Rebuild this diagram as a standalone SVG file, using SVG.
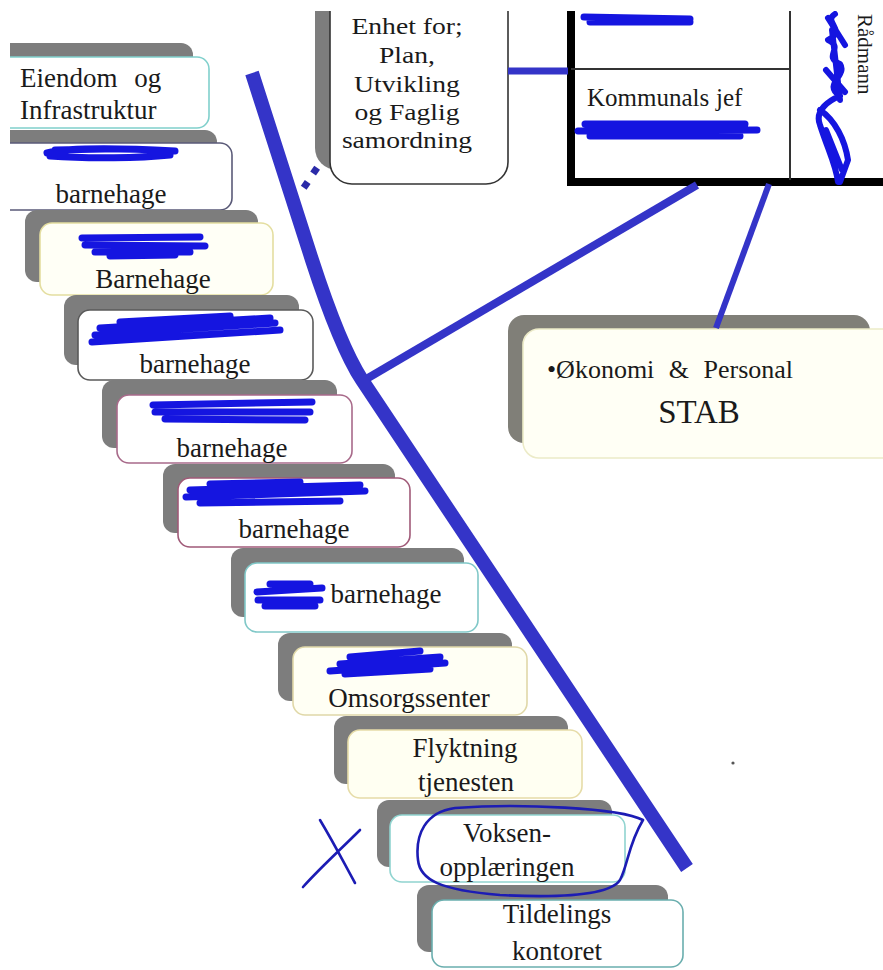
<svg xmlns="http://www.w3.org/2000/svg" width="883" height="970" viewBox="0 0 883 970">
<defs>
<clipPath id="clip"><rect x="10" y="11" width="873" height="959"/></clipPath>
<style>
.sh{fill:#7d7d7d}
.bx{fill:#ffffff;stroke-width:1.6}
.t{font-family:"Liberation Serif","Times New Roman",serif;font-size:27px;fill:#1a1a1a;text-anchor:middle}
.con{fill:none;stroke:#3434c8;stroke-linecap:butt}
.scr{fill:none;stroke:#1515e0;stroke-width:7;stroke-linecap:round;stroke-linejoin:round}
.ink{fill:none;stroke:#1c1cb4;stroke-width:2.6;stroke-linecap:round;stroke-linejoin:round}
</style>
</defs>
<rect x="0" y="0" width="883" height="970" fill="#ffffff"/>
<g clip-path="url(#clip)">

<g id="enhet">
<rect class="sh" x="315" y="-30" width="178" height="200" rx="22"/>
<rect class="bx" x="330" y="-20" width="178" height="204" rx="22" stroke="#333"/>
<g transform="translate(407,0) scale(1.2,1)">
<text class="t" style="font-size:23px" x="0" y="34">Enhet for;</text>
<text class="t" style="font-size:23px" x="0" y="63">Plan,</text>
<text class="t" style="font-size:23px" x="0" y="92">Utvikling</text>
<text class="t" style="font-size:23px" x="0" y="120">og Faglig</text>
<text class="t" style="font-size:23px" x="0" y="148">samordning</text>
</g>
</g>

<g id="kommunalsjef">
<rect x="571" y="-10" width="330" height="192" fill="#ffffff"/>
<line x1="571" y1="0" x2="571" y2="186" stroke="#000" stroke-width="8"/>
<line x1="567" y1="182" x2="883" y2="182" stroke="#000" stroke-width="8"/>
<line x1="571" y1="69" x2="790" y2="69" stroke="#333" stroke-width="2"/>
<line x1="790" y1="0" x2="790" y2="180" stroke="#333" stroke-width="2"/>
<text class="t" style="font-size:25px;text-anchor:start"><tspan x="587" y="106">Kommunals</tspan><tspan x="716" y="106">jef</tspan></text>
<text class="t" style="font-size:21px;text-anchor:start" transform="translate(858,14) rotate(90)">Rådmann</text>
</g>

<g id="eiendom">
<rect class="sh" x="-40" y="43" width="233" height="71" rx="12"/>
<rect class="bx" x="-24" y="57" width="233" height="71" rx="12" stroke="#80d0cc"/>
<text class="t" style="text-anchor:start;word-spacing:10px" x="20" y="87">Eiendom og</text>
<text class="t" style="text-anchor:start" x="20" y="119">Infrastruktur</text>
</g>

<g id="bhg1">
<rect class="sh" x="-16" y="130" width="233" height="67" rx="12"/>
<rect class="bx" x="-1" y="143" width="233" height="67" rx="12" stroke="#5a5a78"/>
<text class="t" x="111" y="203">barnehage</text>
</g>

<g id="bhg2">
<rect class="sh" x="25" y="210" width="233" height="72" rx="12"/>
<rect class="bx" x="40" y="223" width="233" height="72" rx="12" stroke="#e4dea0" style="fill:#fffff6"/>
<text class="t" x="153" y="288">Barnehage</text>
</g>

<g id="bhg3">
<rect class="sh" x="64" y="295" width="235" height="70" rx="12"/>
<rect class="bx" x="78" y="310" width="235" height="70" rx="12" stroke="#5a5a5a"/>
<text class="t" x="195" y="373">barnehage</text>
</g>

<g id="bhg4">
<rect class="sh" x="102" y="380" width="235" height="68" rx="12"/>
<rect class="bx" x="117" y="395" width="235" height="68" rx="12" stroke="#a86a8a"/>
<text class="t" x="232" y="457">barnehage</text>
</g>

<g id="bhg5">
<rect class="sh" x="163" y="464" width="232" height="69" rx="12"/>
<rect class="bx" x="178" y="478" width="232" height="69" rx="12" stroke="#a05a78"/>
<text class="t" x="294" y="538">barnehage</text>
</g>

<g id="bhg6">
<rect class="sh" x="231" y="548" width="233" height="69" rx="12"/>
<rect class="bx" x="245" y="563" width="233" height="69" rx="12" stroke="#80c8c8"/>
<text class="t" x="386" y="603">barnehage</text>
</g>

<g id="omsorg">
<rect class="sh" x="278" y="633" width="234" height="68" rx="12"/>
<rect class="bx" x="293" y="647" width="234" height="68" rx="12" stroke="#e0d8a8" style="fill:#fffff4"/>
<text class="t" x="409" y="707">Omsorgssenter</text>
</g>

<g id="flyktning">
<rect class="sh" x="334" y="716" width="234" height="68" rx="12"/>
<rect class="bx" x="348" y="730" width="234" height="68" rx="12" stroke="#e6dca8" style="fill:#fffff2"/>
<text class="t" x="465" y="757">Flyktning</text>
<text class="t" x="466" y="791">tjenesten</text>
</g>

<g id="voksen">
<rect class="sh" x="377" y="800" width="235" height="67" rx="12"/>
<rect class="bx" x="390" y="815" width="235" height="67" rx="12" stroke="#90d4d0"/>
<text class="t" x="507" y="842">Voksen-</text>
<text class="t" x="507" y="876">opplæringen</text>
</g>

<g id="tildeling">
<rect class="sh" x="417" y="885" width="251" height="67" rx="12"/>
<rect class="bx" x="432" y="900" width="251" height="67" rx="12" stroke="#6aaeae"/>
<text class="t" x="557" y="923">Tildelings</text>
<text class="t" x="557" y="960">kontoret</text>
</g>

<g id="stab">
<rect x="508" y="315" width="362" height="128" rx="16" fill="#807f78"/>
<rect class="bx" x="523" y="329" width="380" height="129" rx="16" stroke="#ecebc8" style="fill:#fffff5"/>
<text class="t" style="font-size:26px;text-anchor:start;word-spacing:8px" x="547" y="378">•Økonomi &amp; Personal</text>
<text class="t" style="font-size:33px" x="699" y="423">STAB</text>
</g>

<g id="connectors">
<path class="con" stroke-width="14" d="M252 73 L312 260 C325 300 345 354 362 380 L687 868"/>
<line class="con" stroke-width="8" x1="697" y1="185" x2="368" y2="378"/>
<line class="con" stroke-width="6" x1="769" y1="184" x2="716" y2="328"/>
<line class="con" stroke-width="7" x1="508" y1="71" x2="568" y2="71"/>
<rect x="312" y="167" width="7" height="7" fill="#2a2aa8" transform="rotate(35 315 170)"/>
<rect x="302" y="181" width="7" height="7" fill="#2a2aa8" transform="rotate(35 305 185)"/>
</g>

<g id="scribbles">
<path class="scr" d="M47 153 C70 147 120 148 175 151 M50 156 C90 159 140 158 170 155 M55 150 L105 149"/>
<path class="scr" d="M82 238 L200 237 M85 245 L205 246 M95 252 L190 252 M110 256 L175 255"/>
<path class="scr" d="M92 342 L280 330 M95 335 L275 323 M100 328 L270 318 M120 322 L230 316"/>
<path class="scr" d="M153 405 L312 402 M155 412 L310 412 M165 419 L305 420"/>
<path class="scr" d="M186 497 L365 491 M190 490 L360 485 M200 503 L340 501 M210 484 L300 482"/>
<path class="scr" d="M257 592 L322 588 M258 600 L320 600 M265 606 L315 606 M270 584 L310 584"/>
<path class="scr" d="M330 671 L445 663 M340 664 L440 657 M350 657 L420 651 M345 674 L430 669"/>
<path class="scr" d="M584 17 L690 19 M590 22 L690 22"/>
<path class="scr" d="M578 131 L757 130 M585 124 L745 124 M590 136 L740 136"/>
<path class="scr" style="stroke-width:6" d="M835 14 C822 22 848 30 828 40 C845 48 822 56 840 64 C848 76 822 84 840 96 C830 100 814 110 820 125 C828 150 836 165 838 182 M820 110 C835 120 845 140 848 160 L840 182 M828 18 L845 45 M826 70 L845 92 M826 130 L842 170 M832 30 L840 100"/>
<path class="ink" d="M643 820 C620 808 520 803 455 808 C425 812 415 835 418 860 C420 880 440 890 500 895 C560 898 610 895 620 880 C628 865 628 845 643 820"/>
<path class="ink" d="M320 820 C335 845 345 865 355 883 M360 830 C340 850 320 868 303 887"/>
<circle cx="733" cy="763" r="1.6" fill="#555"/>
</g>

</g>
</svg>
